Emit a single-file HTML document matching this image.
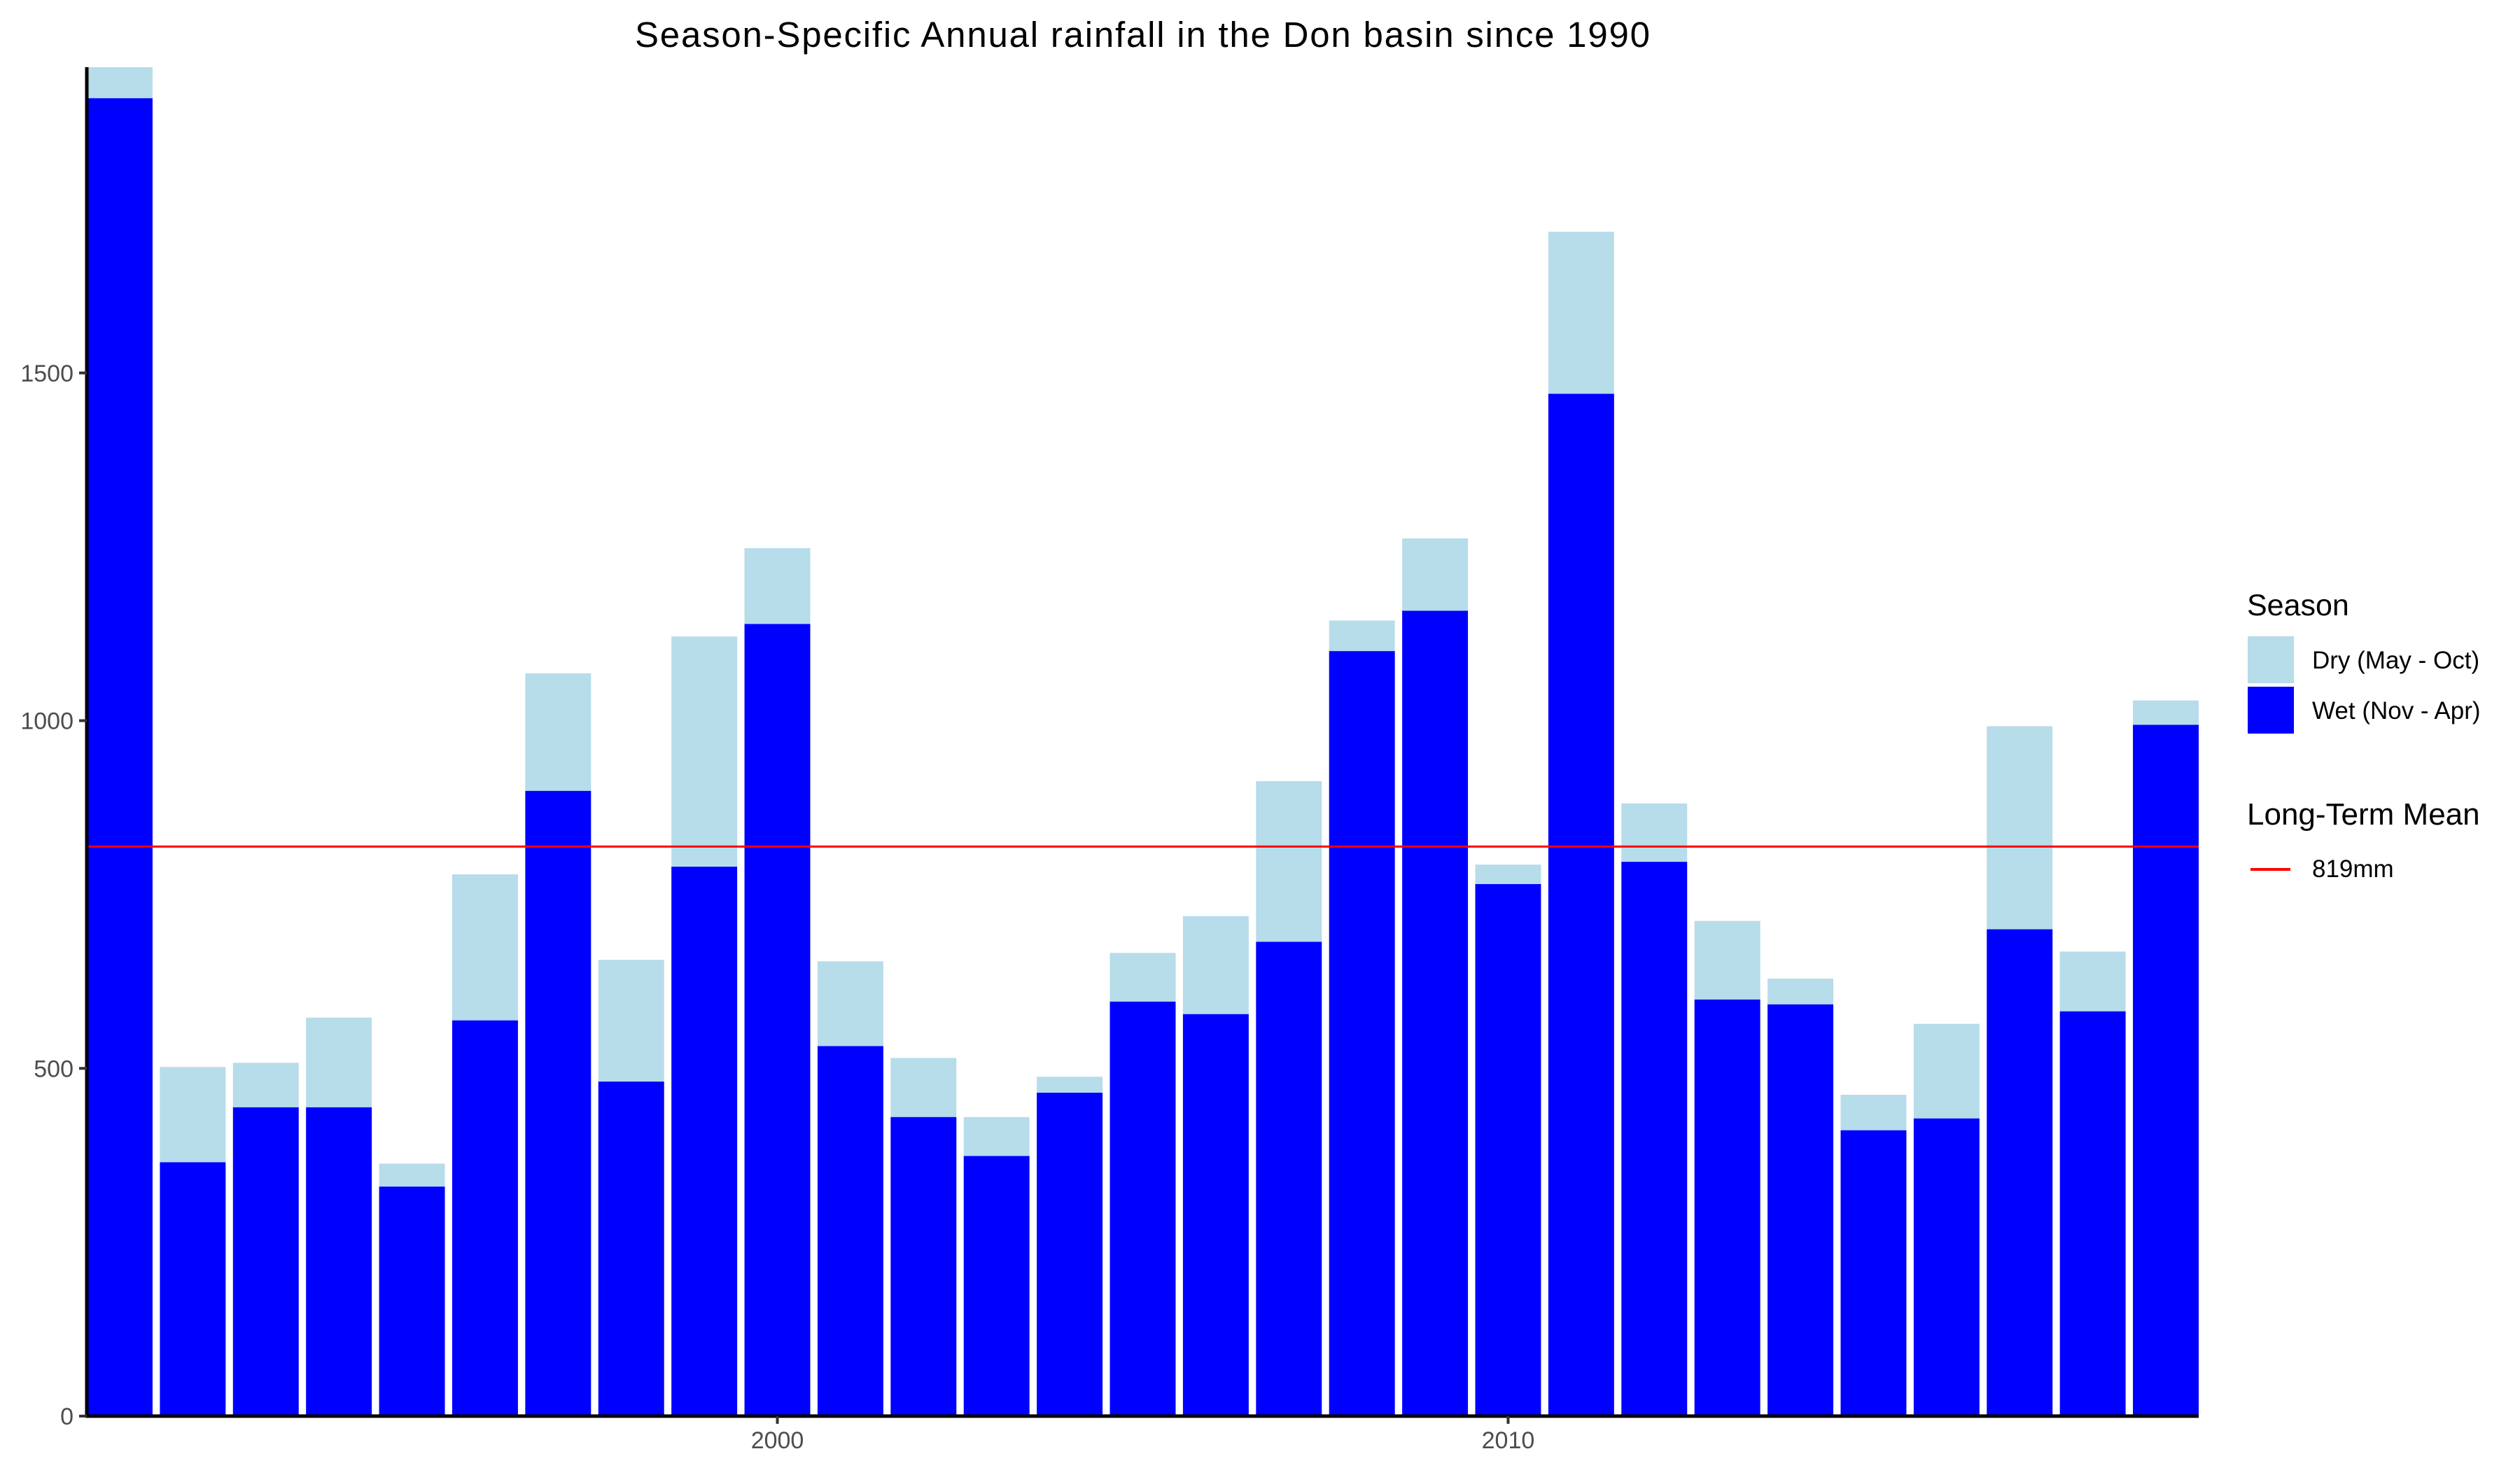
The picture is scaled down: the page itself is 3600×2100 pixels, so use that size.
<!DOCTYPE html>
<html>
<head>
<meta charset="utf-8">
<style>
html,body{margin:0;padding:0;background:#fff;}
svg{display:block;font-family:"Liberation Sans",Arial,sans-serif;}
</style>
</head>
<body>
<svg id="chart" width="3600" height="2100" viewBox="0 0 3600 2100">
  <text x="1632" y="67" font-size="51" text-anchor="middle" fill="#000" textLength="1450">Season-Specific Annual rainfall in the Don basin since 1990</text>
  <g id="bars"></g>
  <g id="axes"></g>
  <g id="legend">
    <text x="3210" y="879" font-size="43" fill="#000">Season</text>
    <rect x="3211" y="909" width="66" height="67" fill="#b7dcea"></rect>
    <text x="3303" y="955" font-size="35" fill="#000">Dry (May - Oct)</text>
    <rect x="3211" y="981" width="66" height="67" fill="#0000ff"></rect>
    <text x="3303" y="1027" font-size="35" fill="#000">Wet (Nov - Apr)</text>
    <text x="3210" y="1178" font-size="44" fill="#000">Long-Term Mean</text>
    <line x1="3215" y1="1242" x2="3272" y2="1242" stroke="#ff0000" stroke-width="4"></line>
    <text x="3303" y="1253" font-size="35" fill="#000">819mm</text>
  </g>
</svg>
<script>
const years = [1991,1992,1993,1994,1995,1996,1997,1998,1999,2000,2001,2002,2003,2004,2005,2006,2007,2008,2009,2010,2011,2012,2013,2014,2015,2016,2017,2018,2019];
const wetValues = [1895,365,444,444,330,569,899,481,790,1139,532,430,374,465,596,578,682,1100,1158,765,1470,797,599,592,411,428,700,582,994];
const totalValues = [1960,502,508,573,363,779,1068,656,1121,1248,654,515,430,488,666,719,913,1144,1262,793,1703,881,712,629,462,564,992,668,1029];
const meanValue = [819];
const yTicks = [0,500,1000,1500];
const xTicks = [2000,2010];

const NS = "http://www.w3.org/2000/svg";
const L = 124, R = 3141, B = 2023, T = 96;
const xMin = 1990.55, xMax = 2019.45, yMax = (B - T) / 0.9935;
function xs(v){ return L + (v - xMin) / (xMax - xMin) * (R - L); }
function ys(v){ return B - v / yMax * (B - T); }
function mk(tag, attrs, parent){
  const e = document.createElementNS(NS, tag);
  for (const k in attrs) e.setAttribute(k, attrs[k]);
  parent.appendChild(e);
  return e;
}
const bars = document.getElementById('bars');
const axes = document.getElementById('axes');
const clip = mk('clipPath', {id:'panel-clip'}, document.getElementById('chart'));
mk('rect', {x:L, y:T, width:R-L, height:B-T}, clip);
bars.setAttribute('clip-path', 'url(#panel-clip)');

const bw = xs(0.9) - xs(0);
years.forEach((yr, i) => {
  const x0 = xs(yr) - bw/2;
  const d = mk('rect', {x:x0, y:ys(totalValues[i]), width:bw, height:ys(wetValues[i]) - ys(totalValues[i]), fill:'#b7dcea'}, bars);
  
  
  const w = mk('rect', {x:x0, y:ys(wetValues[i]), width:bw, height:B - ys(wetValues[i]), fill:'#0000ff'}, bars);
  
  
});
const ml = mk('line', {x1:L, x2:R, y1:ys(meanValue[0]), y2:ys(meanValue[0]), stroke:'#ff0000', 'stroke-width':3}, bars);



const ya = mk('line', {x1:L, x2:L, y1:T, y2:B+2, stroke:'#000', 'stroke-width':5}, axes);


const xa = mk('line', {x1:L-2, x2:R, y1:B, y2:B, stroke:'#000', 'stroke-width':5}, axes);


yTicks.forEach(v => {
  const t = mk('line', {x1:L-11, x2:L, y1:ys(v), y2:ys(v), stroke:'#333', 'stroke-width':4}, axes);
  
  
  const lb = mk('text', {x:L-19, y:ys(v)+12, 'font-size':34, 'text-anchor':'end', fill:'#4d4d4d'}, axes);
  lb.textContent = v;
  
  
});
xTicks.forEach(v => {
  const t = mk('line', {x1:xs(v), x2:xs(v), y1:B, y2:B+11, stroke:'#333', 'stroke-width':4}, axes);
  
  
  const lb = mk('text', {x:xs(v), y:B+46, 'font-size':34, 'text-anchor':'middle', fill:'#4d4d4d'}, axes);
  lb.textContent = v;
  
  
});
</script>
</body>
</html>
